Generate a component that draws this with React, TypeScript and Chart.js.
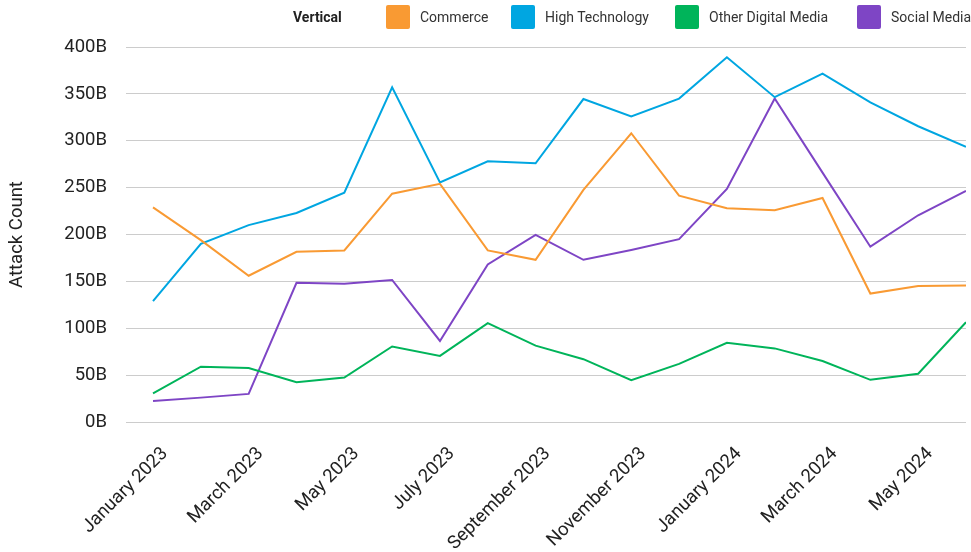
import React, { useEffect, useRef } from "react";
import { Chart, registerables } from "chart.js";

Chart.register(...registerables);

const months = [
  "January 2023", "February 2023", "March 2023", "April 2023", "May 2023", "June 2023",
  "July 2023", "August 2023", "September 2023", "October 2023", "November 2023", "December 2023",
  "January 2024", "February 2024", "March 2024", "April 2024", "May 2024", "June 2024",
];

const commerce = [229, 194, 156, 181.5, 183, 243.5, 254, 183, 173, 247.5, 308, 241.5, 228, 226, 239, 137, 145, 145.5];
const highTechnology = [129, 190, 210, 223, 244.5, 357, 255.5, 278, 276, 344.5, 326, 345, 389, 346.5, 371.5, 341, 315.5, 293.5];
const otherDigitalMedia = [30.5, 59, 57.5, 42.5, 47.5, 80.5, 70.5, 105.5, 81.5, 67, 44.5, 62, 84.5, 78.5, 65, 45, 51.5, 106.5];
const socialMedia = [22.5, 26, 30, 148.5, 147.5, 151.5, 86.5, 168, 199.5, 173, 183.5, 195, 248.5, 345, 266, 187, 220.5, 246.5];

const seriesNames = ["Commerce", "High Technology", "Other Digital Media", "Social Media"];
const seriesColors = ["#F99A33", "#00A6E1", "#00B45A", "#7E45C5"];
const legendTitle = "Vertical";
const yTickValues = [0, 50, 100, 150, 200, 250, 300, 350, 400];
const xLabeledIndices = [0, 2, 4, 6, 8, 10, 12, 14, 16];
const yAxisTitle = "Attack Count";

const legendBoxLeft = [386, 511, 675, 857];

export default function App() {
  const canvasRef = useRef<HTMLCanvasElement>(null);

  useEffect(() => {
    const canvas = canvasRef.current;
    if (!canvas) return;
    const allValues = [commerce, highTechnology, otherDigitalMedia, socialMedia];
    const chart = new Chart(canvas, {
      type: "line",
      data: {
        datasets: allValues.map((vals, i) => ({
          label: seriesNames[i],
          data: vals.map((y, x) => ({ x, y })),
          borderColor: seriesColors[i],
          backgroundColor: seriesColors[i],
          borderWidth: 2,
          pointRadius: 0,
          pointHoverRadius: 0,
          tension: 0,
        })),
      },
      options: {
        animation: false,
        responsive: false,
        maintainAspectRatio: false,
        layout: { padding: { top: 47, right: 5, left: 0, bottom: 0 } },
        plugins: { legend: { display: false }, tooltip: { enabled: false } },
        scales: {
          x: {
            type: "linear",
            min: -0.565,
            max: 17,
            grid: { display: false, drawTicks: false },
            border: { display: false },
            afterBuildTicks: (s: any) => {
              s.ticks = xLabeledIndices.map((v) => ({ value: v }));
            },
            afterFit: (s: any) => {
              s.height = 130;
            },
            ticks: {
              autoSkip: false,
              minRotation: 45,
              maxRotation: 45,
              labelOffset: 12,
              padding: 21,
              font: { family: "Roboto", size: 18.5 },
              color: "#222",
              callback: (v: any) => months[v as number],
            },
          },
          y: {
            min: 0,
            max: 400,
            afterBuildTicks: (s: any) => {
              s.ticks = yTickValues.map((v) => ({ value: v }));
            },
            afterFit: (s: any) => {
              s.width = 126;
            },
            grid: { color: "#cccccc", drawTicks: false, lineWidth: 1 },
            border: { display: false },
            ticks: {
              padding: 19,
              font: { family: "Roboto", size: 18.5 },
              color: "#222",
              callback: (v: any) => `${v}B`,
            },
            title: {
              display: true,
              text: yAxisTitle,
              font: { family: "Roboto", size: 18.5 },
              color: "#222",
              padding: { top: 6, bottom: 4 },
            },
          },
        },
      },
    } as any);
    return () => chart.destroy();
  }, []);

  return (
    <div
      style={{
        position: "fixed",
        left: 0,
        top: 0,
        width: 971,
        height: 552,
        background: "#fff",
        overflow: "hidden",
        fontFamily: "Roboto, sans-serif",
      }}
    >
      <canvas ref={canvasRef} width={971} height={552} style={{ position: "absolute", left: 0, top: 0 }} />
      <div style={{ position: "absolute", left: 0, top: 0, width: 971, height: 34, fontSize: 14, color: "#333" }}>
        <span style={{ position: "absolute", left: 293, top: 8, fontWeight: 700, color: "#222", lineHeight: "18px" }}>
          {legendTitle}
        </span>
        {seriesNames.map((name, i) => (
          <React.Fragment key={name}>
            <span
              style={{
                position: "absolute",
                left: legendBoxLeft[i],
                top: 5,
                width: 24,
                height: 24,
                background: seriesColors[i],
                borderRadius: 2,
              }}
            />
            <span style={{ position: "absolute", left: legendBoxLeft[i] + 34, top: 8, lineHeight: "18px", whiteSpace: "nowrap" }}>
              {name}
            </span>
          </React.Fragment>
        ))}
      </div>
    </div>
  );
}
